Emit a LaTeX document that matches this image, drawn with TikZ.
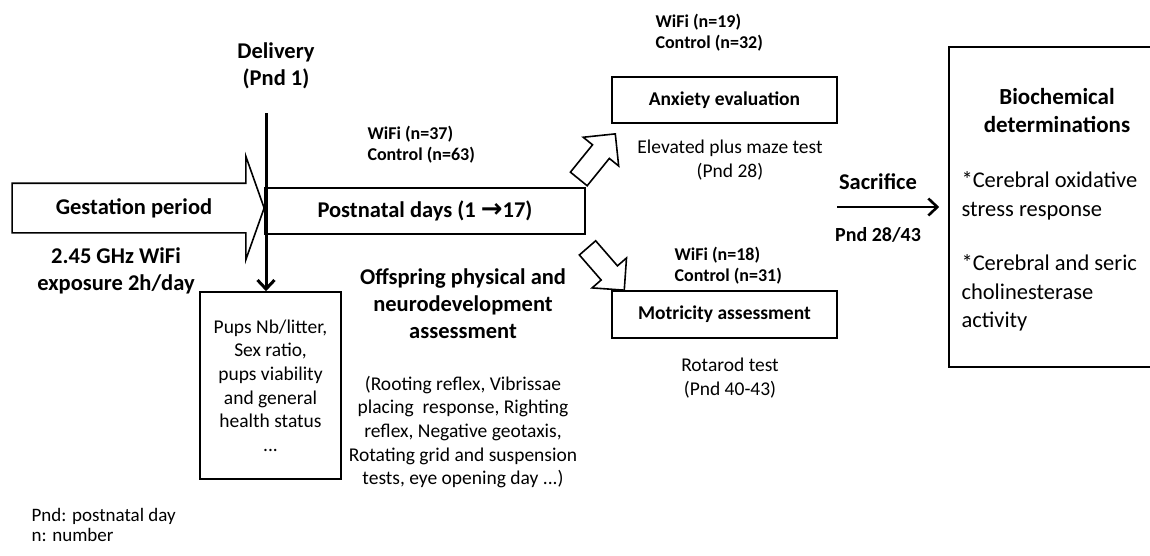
\documentclass[tikz,border=0pt]{standalone}
\usepackage{fontspec}
\setmainfont{Carlito}
\newfontfamily\arrowfont{DejaVu Sans}
\usetikzlibrary{shapes.arrows,arrows.meta}

\begin{document}
\begin{tikzpicture}[x=1pt,y=-1pt,
    big/.style={font=\fontsize{22.5}{27}\selectfont\bfseries,align=center},
    txt/.style={font=\fontsize{19.5}{23.6}\selectfont,align=center},
    count/.style={font=\fontsize{18}{21}\selectfont\bfseries,align=left,anchor=west},
    boxlab/.style={font=\fontsize{19.5}{22}\selectfont\bfseries},
    box/.style={rectangle,draw,line width=1.6pt,inner sep=0pt},
    blockarrow/.style={single arrow,draw,line width=1.6pt,inner sep=0pt,text height=0pt,text depth=0pt},
    barb/.style={-{Straight Barb[length=9pt,width=17pt]}}]
    \useasboundingbox (0,0) rectangle (1150,555);
    % gestation and postnatal period
    \node[blockarrow,anchor=tip,inner ysep=24,minimum height=252,
      single arrow head extend=27,single arrow tip angle=141] (gest) at (265,208) {};
    \node[big] (gestlab) at (134,208) {Gestation period};
    \node[big] (expo) at (116,270.5) {2.45 GHz WiFi\\exposure 2h/day};
    \node[box,minimum width=320,minimum height=46,font=\fontsize{22.5}{27}\selectfont\bfseries]
      (post) at (425,211) {Postnatal days (1 {\arrowfont\fontsize{26}{26}\selectfont →}17)};
    \node[big] (deliv) at (276,65.5) {Delivery\\(Pnd 1)};
    \coordinate (dtop) at (266,113);
    \node[count] (n37) at (364,145) {WiFi (n=37)\\Control (n=63)};
    \node[box,minimum width=141,minimum height=187,txt] (pups) at (270.5,385.5)
      {Pups Nb/litter,\\Sex ratio,\\pups viability\\and general\\health status\\...};
    \draw[barb,line width=3pt] (dtop) -- (dtop |- pups.north);
    \node[big] (offs) at (463,304) {Offspring physical and\\neurodevelopment\\assessment};
    \node[txt] (tests) at (463,432) {(Rooting reflex, Vibrissae\\placing\ \ response, Righting\\reflex, Negative geotaxis,\\Rotating grid and suspension\\tests, eye opening day ...)};
    % behaviour
    \node[blockarrow,anchor=tip,rotate=51,inner ysep=10,minimum height=58,
      single arrow head extend=12,single arrow tip angle=90] (toanx) at (616,133) {};
    \node[blockarrow,anchor=tip,rotate=-49,inner ysep=10,minimum height=56,
      single arrow head extend=12,single arrow tip angle=90] (tomot) at (625,291) {};
    \node[count] (n19) at (652,33) {WiFi (n=19)\\Control (n=32)};
    \node[box,minimum width=225,minimum height=46,boxlab] (anx) at (724.5,100) {Anxiety evaluation};
    \node[txt] (epm) at (730,160) {Elevated plus maze test\\(Pnd 28)};
    \node[count] (n18) at (671,266) {WiFi (n=18)\\Control (n=31)};
    \node[box,minimum width=225,minimum height=47,boxlab] (mot) at (724.5,314.5) {Motricity assessment};
    \node[txt] (rota) at (730,378) {Rotarod test\\(Pnd 40-43)};
    % sacrifice and biochemistry
    \node[box,minimum width=207,minimum height=320] (bio) at (1052.5,207) {};
    \node[big,font=\fontsize{23}{28}\selectfont\bfseries] (biotitle) at (1057,111) {Biochemical\\determinations};
    \node[anchor=north west,align=left,font=\fontsize{22.5}{28.5}\selectfont] (bioitems) at (958,168)
      {*Cerebral oxidative\\stress response\\[26pt]*Cerebral and seric\\cholinesterase\\activity};
    \coordinate (sac) at (837,207);
    \draw[barb,line width=2.6pt] (sac) -- ([xshift=-9pt]bio.west);
    \node[big] (saclab) at (878,182) {Sacrifice};
    \node[font=\fontsize{20}{22}\selectfont\bfseries] (sacday) at (878,235) {Pnd 28/43};
    % legend
    \node[anchor=west,align=left,font=\fontsize{19}{20}\selectfont] (legend) at (28,525)
      {Pnd: postnatal day\\n: number};
\end{tikzpicture}
\end{document}
